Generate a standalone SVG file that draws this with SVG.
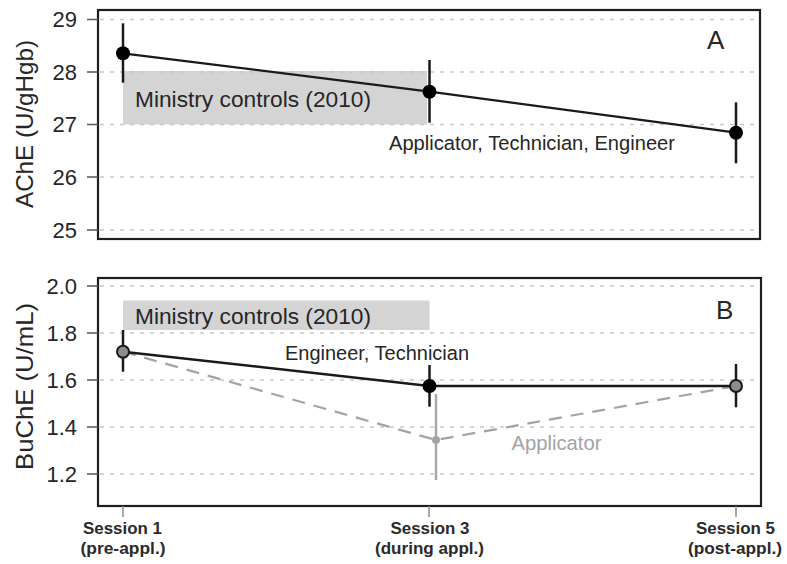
<svg xmlns="http://www.w3.org/2000/svg" width="787" height="564" viewBox="0 0 787 564">
<style>
text{font-family:"Liberation Sans",Arial,sans-serif;fill:#262626}
.grid{stroke:#c8c8c8;stroke-width:1.5;stroke-dasharray:4 6;fill:none}
.box{fill:none;stroke:#1e1e1e;stroke-width:2.2}
.ytick{stroke:#555;stroke-width:1.5}
.tl{font-size:22px;text-anchor:end}
.band{fill:#d4d4d4}
.err{stroke:#1a1a1a;stroke-width:2.5}
.lbl{font-size:20.5px}
.min{font-size:22.5px}
.xl{font-size:17px;font-weight:bold;text-anchor:middle;fill:#2a2a2a}
</style>
<rect width="787" height="564" fill="#fff"/>

<g id="panel-a">
  <rect class="band" x="123" y="71" width="304" height="53.5"/>
  <g class="grid">
    <line x1="100" y1="19.5" x2="758" y2="19.5"/>
    <line x1="100" y1="72" x2="758" y2="72"/>
    <line x1="100" y1="124.5" x2="758" y2="124.5"/>
    <line x1="100" y1="177" x2="758" y2="177"/>
    <line x1="100" y1="230" x2="758" y2="230"/>
  </g>
  <rect class="box" x="98" y="10" width="662" height="229"/>
  <g class="ytick">
    <line x1="87" y1="19.5" x2="98" y2="19.5"/>
    <line x1="87" y1="72" x2="98" y2="72"/>
    <line x1="87" y1="124.5" x2="98" y2="124.5"/>
    <line x1="87" y1="177" x2="98" y2="177"/>
    <line x1="87" y1="230" x2="98" y2="230"/>
  </g>
  <text class="tl" x="77" y="27">29</text>
  <text class="tl" x="77" y="79.5">28</text>
  <text class="tl" x="77" y="132">27</text>
  <text class="tl" x="77" y="184.5">26</text>
  <text class="tl" x="77" y="237.5">25</text>
  <text font-size="24" text-anchor="middle" transform="translate(33,124) rotate(-90)" textLength="168" lengthAdjust="spacingAndGlyphs">AChE (U/gHgb)</text>
  <text class="min" x="135" y="106.5" textLength="236" lengthAdjust="spacingAndGlyphs">Ministry controls (2010)</text>
  <text class="lbl" x="389" y="150" textLength="286" lengthAdjust="spacingAndGlyphs">Applicator, Technician, Engineer</text>
  <text font-size="26" x="707" y="48.5">A</text>
</g>

<g id="panel-b">
  <rect class="band" x="123" y="300.5" width="306.5" height="29.5"/>
  <g class="grid">
    <line x1="100" y1="286" x2="759" y2="286"/>
    <line x1="100" y1="333" x2="759" y2="333"/>
    <line x1="100" y1="380" x2="759" y2="380"/>
    <line x1="100" y1="427" x2="759" y2="427"/>
    <line x1="100" y1="474" x2="759" y2="474"/>
  </g>
  <rect class="box" x="98" y="278" width="663" height="228"/>
  <g class="ytick">
    <line x1="87" y1="286" x2="98" y2="286"/>
    <line x1="87" y1="333" x2="98" y2="333"/>
    <line x1="87" y1="380" x2="98" y2="380"/>
    <line x1="87" y1="427" x2="98" y2="427"/>
    <line x1="87" y1="474" x2="98" y2="474"/>
  </g>
  <text class="tl" x="77" y="293.5">2.0</text>
  <text class="tl" x="77" y="340.5">1.8</text>
  <text class="tl" x="77" y="387.5">1.6</text>
  <text class="tl" x="77" y="434.5">1.4</text>
  <text class="tl" x="77" y="481.5">1.2</text>
  <text font-size="24" text-anchor="middle" transform="translate(33,386.5) rotate(-90)" textLength="167" lengthAdjust="spacingAndGlyphs">BuChE (U/mL)</text>
  <text class="min" x="135" y="324" textLength="236" lengthAdjust="spacingAndGlyphs">Ministry controls (2010)</text>
  <text class="lbl" x="285" y="359.5" textLength="184" lengthAdjust="spacingAndGlyphs">Engineer, Technician</text>
  <text class="lbl" x="511.5" y="450" textLength="90" lengthAdjust="spacingAndGlyphs" style="fill:#a3a3a3">Applicator</text>
  <text font-size="26" x="716" y="318.5">B</text>
  <g stroke="#8a8a8a" stroke-width="1.5">
    <line x1="123" y1="506" x2="123" y2="517"/>
    <line x1="429" y1="506" x2="429" y2="517"/>
    <line x1="736" y1="506" x2="736" y2="517"/>
  </g>
  <text class="xl" x="122.5" y="533.5" textLength="79" lengthAdjust="spacingAndGlyphs">Session 1</text>
  <text class="xl" x="123" y="553.5" textLength="85" lengthAdjust="spacingAndGlyphs">(pre-appl.)</text>
  <text class="xl" x="430" y="533.5" textLength="79" lengthAdjust="spacingAndGlyphs">Session 3</text>
  <text class="xl" x="429.5" y="553.5" textLength="109" lengthAdjust="spacingAndGlyphs">(during appl.)</text>
  <text class="xl" x="735.5" y="533.5" textLength="79" lengthAdjust="spacingAndGlyphs">Session 5</text>
  <text class="xl" x="735" y="553.5" textLength="94" lengthAdjust="spacingAndGlyphs">(post-appl.)</text>
</g>

<g id="connectors">
  <polyline points="123,53.3 429.5,91.7 736,132.7" fill="none" stroke="#1a1a1a" stroke-width="2.2"/>
  <polyline points="123,351.7 436,440 736,386" fill="none" stroke="#a3a3a3" stroke-width="2.2" stroke-dasharray="13 9"/>
  <polyline points="123,351.7 429.5,386 736,386" fill="none" stroke="#1a1a1a" stroke-width="2.5"/>
</g>

<g id="points-a">
  <line class="err" x1="123" y1="23.3" x2="123" y2="82.7"/>
  <circle cx="123" cy="53.3" r="7" fill="#000"/>
  <line class="err" x1="429.5" y1="60" x2="429.5" y2="122.7"/>
  <circle cx="429.5" cy="91.7" r="7" fill="#000"/>
  <line class="err" x1="736" y1="102.3" x2="736" y2="163.3"/>
  <circle cx="736" cy="132.7" r="7" fill="#000"/>
</g>

<g id="points-b">
  <line class="err" x1="123" y1="330" x2="123" y2="371.7"/>
  <circle cx="123" cy="351.7" r="6" fill="#8c8c8c" stroke="#1a1a1a" stroke-width="2"/>
  <line class="err" x1="429.5" y1="365" x2="429.5" y2="406.7"/>
  <circle cx="429.5" cy="386" r="7" fill="#000"/>
  <line class="err" x1="736" y1="364" x2="736" y2="407.3"/>
  <circle cx="736" cy="386" r="6" fill="#8c8c8c" stroke="#1a1a1a" stroke-width="2"/>
  <line x1="436" y1="394" x2="436" y2="480" stroke="#a8a8a8" stroke-width="2.5"/>
  <circle cx="436" cy="440" r="4" fill="#a3a3a3"/>
</g>
</svg>
